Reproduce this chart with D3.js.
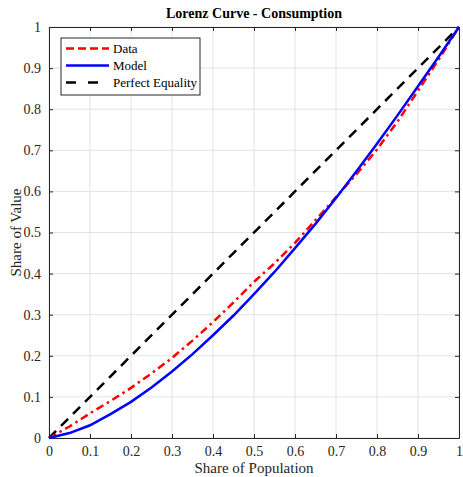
<!DOCTYPE html>
<html><head><meta charset="utf-8">
<script src="https://cdn.jsdelivr.net/npm/d3@7"></script>
<style>body{margin:0;background:#fff}svg{display:block}text{font-family:"Liberation Serif","Times New Roman",serif;fill:#262626}</style>
</head><body>
<script>
const population = [0,0.05,0.1,0.15,0.2,0.25,0.3,0.35,0.4,0.45,0.5,0.55,0.6,0.65,0.7,0.75,0.8,0.85,0.9,0.95,1];
const dataShare = [0,0.028,0.06,0.09,0.122,0.157,0.195,0.237,0.282,0.33,0.38,0.425,0.475,0.53,0.586,0.642,0.702,0.77,0.845,0.92,1];
const modelShare = [0,0.012,0.031,0.058,0.088,0.123,0.162,0.204,0.25,0.298,0.35,0.404,0.462,0.521,0.584,0.649,0.716,0.785,0.856,0.927,1];
const equality = [0,1];
const ticks = [0,0.1,0.2,0.3,0.4,0.5,0.6,0.7,0.8,0.9,1];

const W=463,H=477, L=49,R=459,T=27,B=438;
const FONT='"Liberation Serif","Times New Roman",serif';
const svg=d3.select("body").append("svg").attr("width",W).attr("height",H);
const x=d3.scaleLinear().domain([0,1]).range([L,R]);
const y=d3.scaleLinear().domain([0,1]).range([B,T]);

// grid
const g=svg.append("g");
g.selectAll(".gx").data(ticks).join("line").attr("x1",d=>x(d)).attr("x2",d=>x(d)).attr("y1",T).attr("y2",B).attr("stroke","#e3e3e3").attr("stroke-width",1);
g.selectAll(".gy").data(ticks).join("line").attr("y1",d=>y(d)).attr("y2",d=>y(d)).attr("x1",L).attr("x2",R).attr("stroke","#e3e3e3").attr("stroke-width",1);

const fmt=d=>d===0?"0":d===1?"1":d3.format(".1f")(d);
const ax=svg.append("g").attr("transform",`translate(0,${B})`).call(d3.axisBottom(x).tickValues(ticks).tickFormat(fmt).tickSizeInner(-4).tickSizeOuter(0).tickPadding(8));
const ay=svg.append("g").attr("transform",`translate(${L},0)`).call(d3.axisLeft(y).tickValues(ticks).tickFormat(fmt).tickSizeInner(-4).tickSizeOuter(0).tickPadding(8));
const at=svg.append("g").attr("transform",`translate(0,${T})`).call(d3.axisTop(x).tickValues(ticks).tickFormat("").tickSizeInner(-4).tickSizeOuter(0));
const ar=svg.append("g").attr("transform",`translate(${R},0)`).call(d3.axisRight(y).tickValues(ticks).tickFormat("").tickSizeInner(-4).tickSizeOuter(0));
[ax,ay,at,ar].forEach(a=>{a.attr("font-family",FONT).attr("font-size",14);a.selectAll("path,line").attr("stroke","#262626");a.selectAll("text").attr("fill","#262626");});

const line=d3.line().x(d=>x(d[0])).y(d=>y(d[1]));
svg.append("path").datum(equality.map((v,i)=>[equality[i],v])).attr("d",line).attr("fill","none").attr("stroke","#000").attr("stroke-width",2.5).attr("stroke-dasharray","10,7");
svg.append("path").datum(population.map((p,i)=>[p,dataShare[i]])).attr("d",line).attr("fill","none").attr("stroke","#ff0000").attr("stroke-width",2.5).attr("stroke-dasharray","8,4,2.5,4");
svg.append("path").datum(population.map((p,i)=>[p,modelShare[i]])).attr("d",line).attr("fill","none").attr("stroke","#0000ff").attr("stroke-width",2.5);

// title & labels
svg.append("text").attr("x",(L+R)/2).attr("y",18).attr("text-anchor","middle").attr("font-family",FONT).attr("font-size",14).attr("font-weight","bold").style("fill","#000").text("Lorenz Curve - Consumption");
svg.append("text").attr("x",(L+R)/2).attr("y",473).attr("text-anchor","middle").attr("font-family",FONT).attr("font-size",15).text("Share of Population");
svg.append("text").attr("transform",`translate(21,${(T+B)/2}) rotate(-90)`).attr("text-anchor","middle").attr("font-family",FONT).attr("font-size",15).text("Share of Value");

// legend
const leg=svg.append("g");
leg.append("rect").attr("x",61).attr("y",38).attr("width",139).attr("height",57).attr("fill","#fff").attr("stroke","#262626").attr("stroke-width",1);
const items=[{n:"Data",c:"#ff0000",d:"8,4"},{n:"Model",c:"#0000ff",d:null},{n:"Perfect Equality",c:"#000",d:"10,12"}];
items.forEach((it,i)=>{
  const yy=48.5+i*17;
  const l=leg.append("line").attr("x1",66).attr("x2",109).attr("y1",yy).attr("y2",yy).attr("stroke",it.c).attr("stroke-width",2.5);
  if(it.d) l.attr("stroke-dasharray",it.d);
  leg.append("text").attr("x",113).attr("y",yy+4.5).attr("font-family",FONT).attr("font-size",13).style("fill","#000").text(it.n);
});
</script>
</body></html>
